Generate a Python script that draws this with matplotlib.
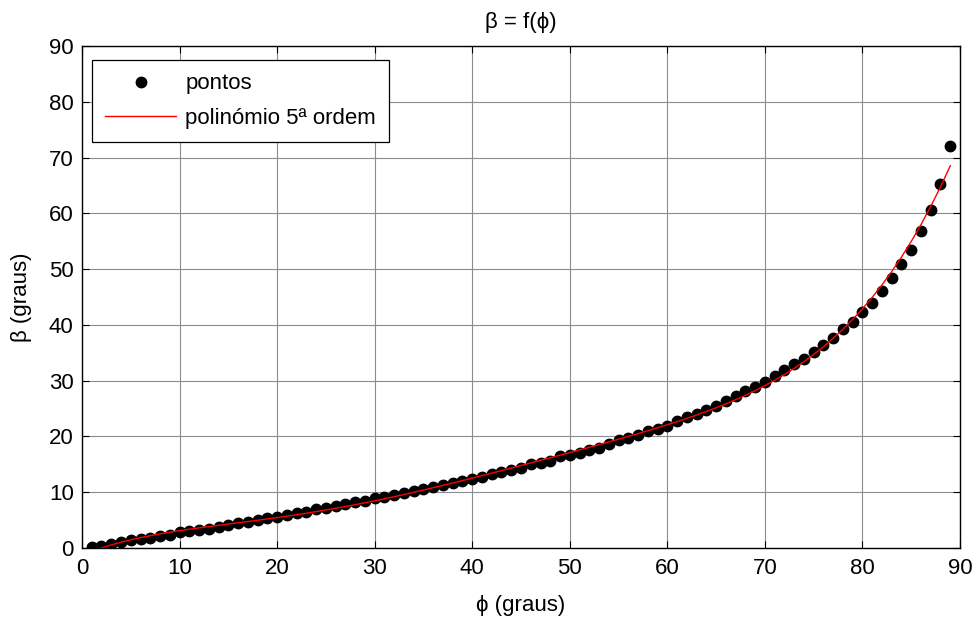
import numpy as np
import matplotlib
matplotlib.use("Agg")
import matplotlib.pyplot as plt

plt.rcParams['font.family'] = ['Liberation Sans', 'DejaVu Sans']

# phi (graus) and beta (graus)
phi = np.arange(1, 90)
beta = [
    0.1, 0.4, 0.8, 1.1, 1.4, 1.6, 1.8, 2.1, 2.4, 2.8,
    3.0, 3.2, 3.4, 3.8, 4.1, 4.4, 4.7, 5.0, 5.3, 5.6,
    5.9, 6.2, 6.5, 6.9, 7.2, 7.5, 7.8, 8.2, 8.5, 8.9,
    9.2, 9.5, 9.9, 10.2, 10.5, 10.9, 11.2, 11.6, 12.0, 12.3,
    12.8, 13.3, 13.7, 13.9, 14.3, 15.0, 15.3, 15.6, 16.4, 16.7,
    17.0, 17.6, 18.0, 18.6, 19.3, 19.7, 20.3, 21.0, 21.4, 21.9,
    22.8, 23.4, 24.1, 24.7, 25.4, 26.4, 27.2, 28.1, 28.9, 29.8,
    30.9, 31.9, 32.9, 33.8, 35.2, 36.3, 37.6, 39.3, 40.6, 42.3,
    44.0, 46.1, 48.4, 50.9, 53.5, 56.9, 60.6, 65.3, 72.1,
]
xticks = np.arange(0, 91, 10)
yticks = np.arange(0, 91, 10)

# 5th order polynomial fit of the points
coef = np.polyfit(phi, beta, 5)
beta_fit = np.polyval(coef, phi)

fig = plt.figure(figsize=(9.76, 6.21), dpi=100)
ax = fig.add_axes([0.084, 0.1176, 0.8996, 0.8084])

ax.plot(phi, beta, 'o', color='black', markersize=7.5, label='pontos')
ax.plot(phi, beta_fit, '-', color='red', lw=1.0, label='polinómio 5ª ordem')

ax.set_xlim(0, 90)
ax.set_ylim(0, 90)
ax.set_xticks(xticks)
ax.set_yticks(yticks)
ax.grid(True, color='#8c8c8c', lw=0.8)
ax.tick_params(direction='in', top=True, right=True, labelsize=16, length=5)
ax.tick_params(axis='x', pad=7)
ax.tick_params(axis='y', pad=6)
for s in ax.spines.values():
    s.set_linewidth(1.0)

ax.set_title('β = f(ϕ)', fontsize=16, pad=13)
ax.set_xlabel('ϕ (graus)', fontsize=16, labelpad=12)
ax.set_ylabel('β (graus)', fontsize=16, labelpad=12)

leg = ax.legend(loc='upper left', bbox_to_anchor=(0.0114, 0.972), borderaxespad=0,
                fontsize=16, frameon=True, fancybox=False,
                edgecolor='black', framealpha=1,
                handlelength=3.2, borderpad=0.6, labelspacing=0.6,
                handletextpad=0.4)
leg.get_frame().set_linewidth(0.9)

fig.savefig('out.png', dpi=100)
